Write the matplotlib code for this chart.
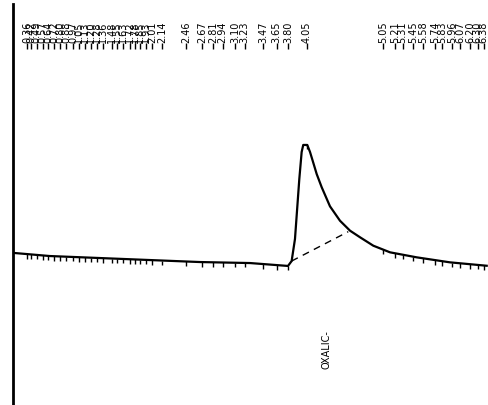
import matplotlib.pyplot as plt
import numpy as np

# detector trace, time in min vs signal in mV
trace_t = [0.20, 0.66, 1.32, 1.98, 2.64, 3.30, 3.80, 3.848, 3.892, 3.949, 3.98, 4.001,
           4.054, 4.09, 4.125, 4.178, 4.244, 4.353, 4.485, 4.617, 4.749, 4.924,
           5.144, 5.495, 5.934, 6.418]
trace_mv = [0.16, -0.14, -0.34, -0.54, -0.74, -0.84, -1.13, -0.64, 1.56, 7.54, 10.24, 10.94,
            10.94, 10.24, 9.37, 8.04, 6.72, 4.82, 3.38, 2.39, 1.73, 0.89,
            0.23, -0.27, -0.77, -1.11]

# integration baseline under the main peak
base_t = [3.848, 4.594]
base_mv = [-0.64, 2.29]

# retention times of detected peaks
peak_times = [0.36, 0.42, 0.49, 0.57, 0.64, 0.72, 0.80, 0.88, 0.97, 1.05, 1.13, 1.20,
              1.28, 1.36, 1.48, 1.55, 1.63, 1.72, 1.78, 1.85, 1.93, 2.01, 2.14, 2.46,
              2.67, 2.81, 2.94, 3.10, 3.23, 3.47, 3.65, 3.80, 4.05, 5.05, 5.21, 5.31,
              5.45, 5.58, 5.74, 5.83, 5.96, 6.07, 6.20, 6.30, 6.38]

peak_name = 'OXALIC-'
peak_name_t = 4.31

fig = plt.figure(figsize=(4.88, 4.06), dpi=100)
ax = fig.add_axes([13/488, 0, 475/488, 401/406])
ax.set_xlim(0.177, 6.435)
ax.set_ylim(-15, 25)

for s in ['top', 'right', 'bottom']:
    ax.spines[s].set_visible(False)
ax.spines['left'].set_linewidth(2)
ax.set_xticks([])
ax.set_yticks([])

ax.plot(trace_t, trace_mv, color='black', lw=1.6)
ax.plot(base_t, base_mv, color='black', lw=1, ls=(0, (5, 4)))

# event marks hanging from the trace
ev = np.array(peak_times)
ev_y = np.interp(ev, trace_t, trace_mv)
ax.vlines(ev, ev_y - 0.45, ev_y, color='black', lw=1)

# retention time labels along the top
tr = ax.get_xaxis_transform()
ax.vlines(ev, 0.888, 0.903, color='black', lw=1, transform=tr)
for t in peak_times:
    ax.text(t, 0.906, f'{t:.2f}', rotation=90, ha='center', va='bottom',
            fontsize=7, transform=tr)

ax.text(peak_name_t, 0.14, peak_name, rotation=90, ha='center', va='center',
        fontsize=7, transform=tr)

plt.savefig('out.png', dpi=100)
